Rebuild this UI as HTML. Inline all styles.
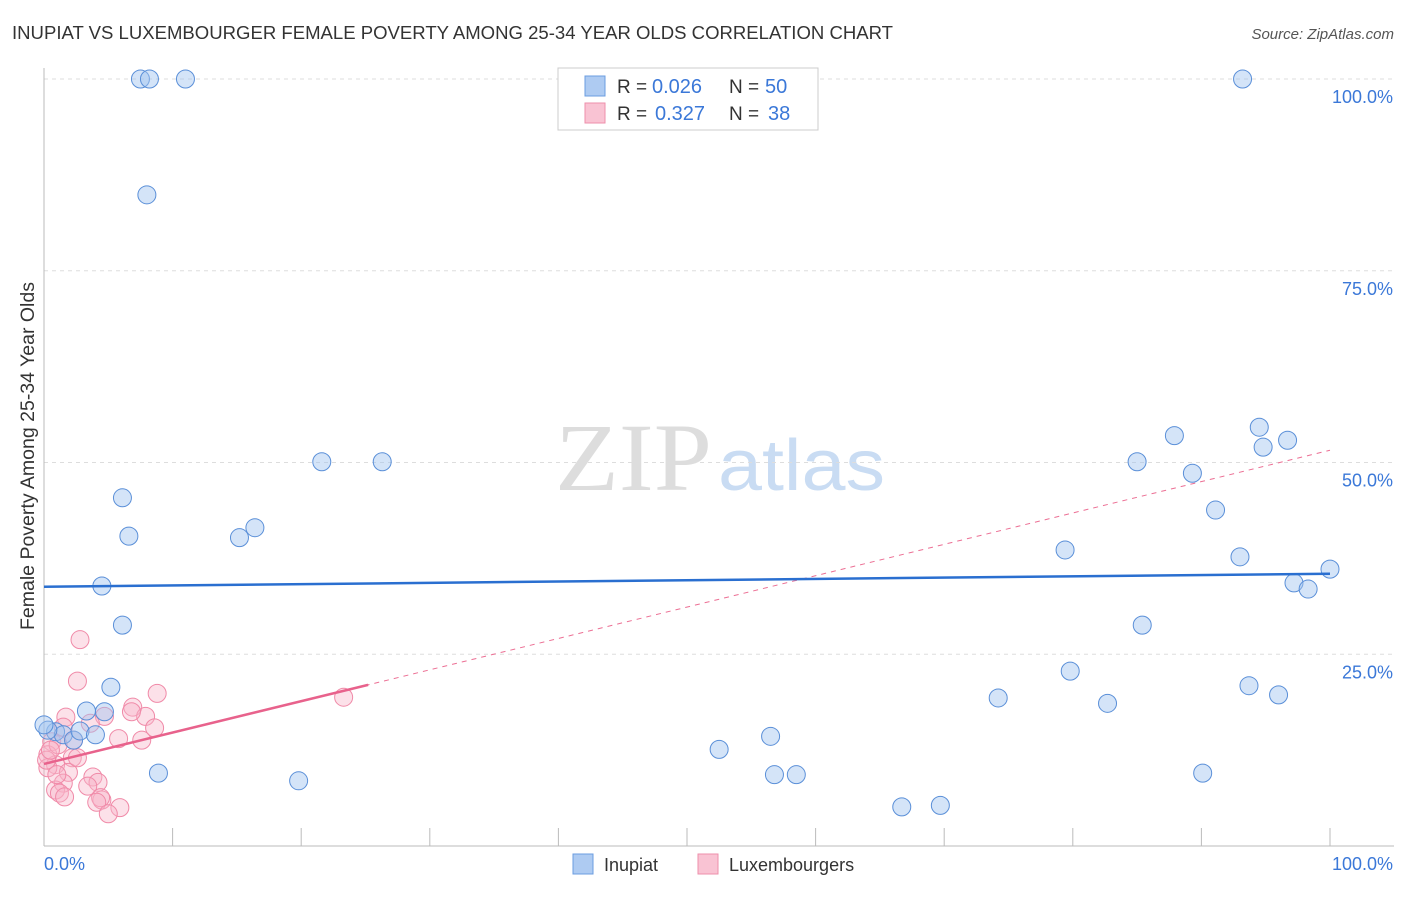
<!DOCTYPE html>
<html><head><meta charset="utf-8"><style>
body{margin:0;background:#fff;font-family:"Liberation Sans",sans-serif;}
svg text{font-family:"Liberation Sans",sans-serif;}
</style></head><body>
<svg width="1406" height="892">
<text x="12" y="39" font-size="18" fill="#333" textLength="881" lengthAdjust="spacingAndGlyphs">INUPIAT VS LUXEMBOURGER FEMALE POVERTY AMONG 25-34 YEAR OLDS CORRELATION CHART</text>
<text x="1394" y="39" font-size="15" fill="#555" font-style="italic" text-anchor="end">Source: ZipAtlas.com</text>
<text x="555" y="490" font-size="96" fill="#ddd" textLength="157" lengthAdjust="spacingAndGlyphs" style="font-family:'Liberation Serif',serif">ZIP</text>
<text x="718" y="490" font-size="72" fill="#c9dcf3" textLength="167" lengthAdjust="spacingAndGlyphs">atlas</text>
<g id="grid"></g>
<g id="axes"></g>
<g id="marks"></g>
<text transform="translate(34,456) rotate(-90)" font-size="19" fill="#333" text-anchor="middle" textLength="348" lengthAdjust="spacingAndGlyphs">Female Poverty Among 25-34 Year Olds</text>
<g>
<rect x="558" y="68" width="260" height="62" fill="#fff" stroke="#ccc"/>
<rect x="585" y="76" width="20" height="20" fill="#aecbf2" stroke="#6b9ce0"/>
<text x="617" y="93" font-size="19" fill="#333">R =</text>
<text x="652" y="93" font-size="20" fill="#3b78d8">0.026</text>
<text x="729" y="93" font-size="19" fill="#333">N =</text>
<text x="765" y="93" font-size="20" fill="#3b78d8">50</text>
<rect x="585" y="103" width="20" height="20" fill="#f9c3d3" stroke="#ee8fab"/>
<text x="617" y="120" font-size="19" fill="#333">R =</text>
<text x="655" y="120" font-size="20" fill="#3b78d8">0.327</text>
<text x="729" y="120" font-size="19" fill="#333">N =</text>
<text x="768" y="120" font-size="20" fill="#3b78d8">38</text>
</g>
<g>
<rect x="573" y="854" width="20" height="20" fill="#aecbf2" stroke="#6b9ce0"/>
<text x="604" y="871" font-size="18" fill="#333">Inupiat</text>
<rect x="698" y="854" width="20" height="20" fill="#f9c3d3" stroke="#ee8fab"/>
<text x="729" y="871" font-size="18" fill="#333">Luxembourgers</text>
</g>
</svg>
<script>
const yTicks=[25,50,75,100];
const yTickLabels=["25.0%","50.0%","75.0%","100.0%"];
const xTicks=[0,10,20,30,40,50,60,70,80,90,100];
const inupiatX=[7.5,8.2,11.0,93.2,8.0,21.6,26.3,6.1,6.6,15.2,16.4,4.5,6.1,5.2,3.3,4.7,0.9,1.5,2.3,2.8,4.0,8.9,19.8,52.5,56.5,56.8,58.5,66.7,69.7,79.4,85.0,87.9,89.3,91.1,93.0,94.5,94.8,96.7,97.2,98.3,100,85.4,79.8,74.2,82.7,93.7,96.0,90.1,0.3,0];
const inupiatY=[100,100,100,100,84.9,50.1,50.1,45.4,40.4,40.2,41.5,33.9,28.8,20.7,17.6,17.5,14.9,14.5,13.8,15.0,14.5,9.5,8.5,12.6,14.3,9.3,9.3,5.1,5.3,38.6,50.1,53.5,48.6,43.8,37.7,54.6,52.0,52.9,34.3,33.5,36.1,28.8,22.8,19.3,18.6,20.9,19.7,9.5,15.1,15.8];
const luxX=[2.8,2.6,8.8,23.3,6.9,7.9,4.7,1.7,3.6,1.5,5.8,7.6,8.6,6.8,2.3,0.6,0.3,2.2,0.9,0.3,1.9,3.8,4.2,1.5,3.4,0.9,1.2,4.5,4.4,1.6,4.1,5.9,5.0,1.1,0.2,2.6,1.0,0.5];
const luxY=[26.9,21.5,19.9,19.4,18.1,16.9,16.9,16.8,16.0,15.5,14.0,13.8,15.4,17.5,13.8,13.6,11.9,11.5,10.6,10.2,9.6,9.0,8.3,8.2,7.8,7.3,6.9,6.0,6.3,6.4,5.7,5.0,4.2,13.2,11.2,11.5,9.3,12.5];
const inupiatTrend=[33.8,35.5];
const luxTrend=[10.7,51.6];
const luxSolidEnd=25.2;
const NS="http://www.w3.org/2000/svg";
const X=v=>44+v*12.86, Y=v=>846-v*7.67;
function mk(tag,attrs,parent){const e=document.createElementNS(NS,tag);for(const k in attrs)e.setAttribute(k,attrs[k]);document.getElementById(parent).appendChild(e);return e;}
yTicks.forEach((t,i)=>{
 const g=mk('line',{x1:44,x2:1394,y1:Y(t),y2:Y(t),stroke:'#ddd','stroke-dasharray':'4,4'},'grid');
 
 
 const l=mk('text',{x:1393,y:Y(t)+24,'font-size':18,fill:'#3b78d8','text-anchor':'end'},'grid');l.textContent=yTickLabels[i];
 
 
});
mk('line',{x1:44,x2:44,y1:68,y2:846,stroke:'#bbb'},'axes');
mk('line',{x1:44,x2:1394,y1:846,y2:846,stroke:'#bbb'},'axes');
xTicks.forEach(t=>{const e=mk('line',{x1:X(t),x2:X(t),y1:846,y2:828,stroke:'#bbb'},'axes');
 
 });
let a=mk('text',{x:44,y:870,'font-size':18,fill:'#3b78d8'},'axes');a.textContent='0.0%';


a=mk('text',{x:1393,y:870,'font-size':18,fill:'#3b78d8','text-anchor':'end'},'axes');a.textContent='100.0%';


luxX.forEach((x,i)=>{const c=mk('circle',{cx:X(x),cy:Y(luxY[i]),r:9,fill:'rgba(248,180,200,0.4)',stroke:'#f08aa8','stroke-width':1},'marks');
 
 });
inupiatX.forEach((x,i)=>{const c=mk('circle',{cx:X(x),cy:Y(inupiatY[i]),r:9,fill:'rgba(160,196,240,0.45)',stroke:'#5a8fd8','stroke-width':1},'marks');
 
 });
let t=mk('line',{x1:X(0),y1:Y(luxTrend[0]),x2:X(100),y2:Y(luxTrend[1]),stroke:'#ec6f94','stroke-width':1,'stroke-dasharray':'5,5'},'marks');


const ly=luxTrend[0]+(luxTrend[1]-luxTrend[0])*luxSolidEnd/100;
t=mk('line',{x1:X(0),y1:Y(luxTrend[0]),x2:X(luxSolidEnd),y2:Y(ly),stroke:'#e8628c','stroke-width':2.5},'marks');


t=mk('line',{x1:X(0),y1:Y(inupiatTrend[0]),x2:X(100),y2:Y(inupiatTrend[1]),stroke:'#2a6fd0','stroke-width':2.5},'marks');


</script>
</body></html>
